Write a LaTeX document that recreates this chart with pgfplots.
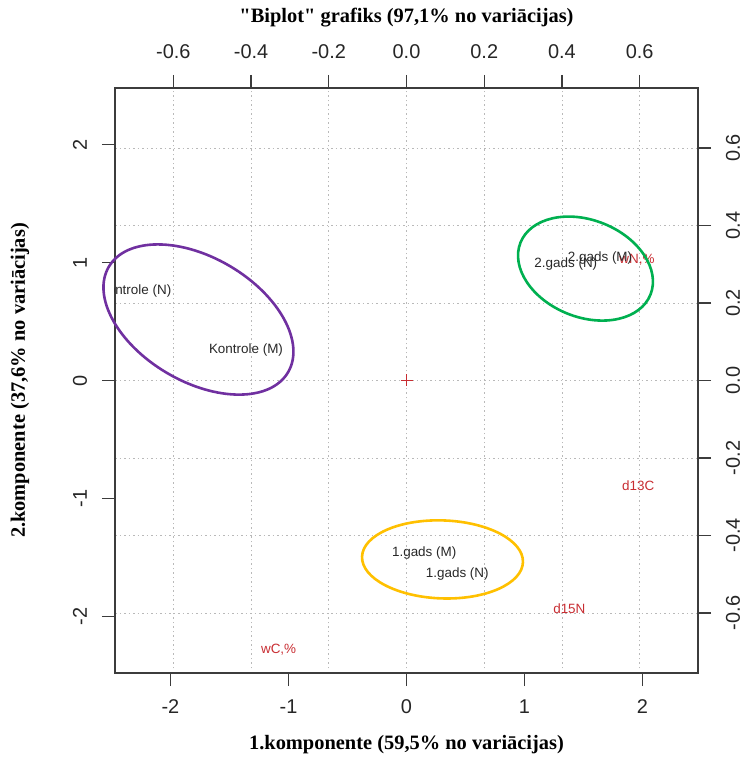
\documentclass[border=0pt]{standalone}
\usepackage{pgfplots}
\pgfplotsset{compat=1.18}
\usepackage{pgfplotstable}
\usepackage{fontspec}
\setmainfont{Liberation Sans}
\newfontfamily\titlefont{Liberation Serif}

\definecolor{obstext}{RGB}{40,40,40}
\definecolor{vartext}{RGB}{200,45,50}
\definecolor{ellpurple}{RGB}{112,48,160}
\definecolor{ellgreen}{RGB}{0,176,80}
\definecolor{ellorange}{RGB}{255,192,0}
\definecolor{boxgray}{RGB}{60,60,60}

% sample scores (1st / 2nd component)
\pgfplotstableread[col sep=semicolon]{
x;y;lab
-2.30;0.76;Kontrole (N)
-1.36;0.26;Kontrole (M)
1.35;0.99;2.gads (N)
1.64;1.04;2.gads (M)
0.15;-1.46;1.gads (M)
0.43;-1.64;1.gads (N)
}\scores

% variable loadings
\pgfplotstableread[col sep=semicolon]{
x;y;lab
0.593;0.313;wN,\%
0.596;-0.272;d13C
0.419;-0.590;d15N
-0.329;-0.696;wC,\%
}\loadings

\pgfplotsset{
  biplotbase/.style={
    at={(0,0)}, anchor=south west,
    scale only axis, width=583bp, height=585bp,
    tick align=outside, major tick length=13bp,
    axis line style={boxgray, line width=1.2bp},
    every tick/.style={boxgray, line width=1.2bp},
    tick label style={font=\fontsize{20}{24}\selectfont, text=black!85},
    clip marker paths=true,
  }
}

\begin{document}
\begin{tikzpicture}
\useasboundingbox (-115bp,-85bp) rectangle (628bp,673bp);

% loadings axis (top / right) with the dotted grid
\begin{axis}[biplotbase,
  xmin=-0.75, xmax=0.75, ymin=-0.755, ymax=0.755,
  xtick={-0.6,-0.4,-0.2,0,0.2,0.4,0.6},
  ytick={-0.6,-0.4,-0.2,0,0.2,0.4,0.6},
  xticklabels={-0.6,-0.4,-0.2,0.0,0.2,0.4,0.6},
  yticklabels={-0.6,-0.4,-0.2,0.0,0.2,0.4,0.6},
  xtick pos=right, ytick pos=right,
  xticklabel pos=right, yticklabel pos=right,
  xticklabel style={anchor=center, yshift=23bp},
  yticklabel style={anchor=center, xshift=22bp, rotate=90},
  grid=major,
  major grid style={gray!55, line width=0.8bp, dash pattern=on 1.5bp off 3bp},
]
\addplot[only marks, mark=none, point meta=explicit symbolic,
  nodes near coords,
  nodes near coords style={anchor=center, inner sep=0pt,
    font=\fontsize{13.5}{16}\selectfont, text=vartext}]
  table[x=x, y=y, meta=lab] {\loadings};
\end{axis}

% scores axis (bottom / left)
\begin{axis}[biplotbase,
  xmin=-2.47, xmax=2.47, ymin=-2.48, ymax=2.48,
  xtick={-2,-1,0,1,2}, ytick={-2,-1,0,1,2},
  xticklabels={-2,-1,0,1,2}, yticklabels={-2,-1,0,1,2},
  xtick pos=left, ytick pos=left,
  xticklabel style={anchor=center, yshift=-21bp},
  yticklabel style={anchor=center, xshift=-22bp, rotate=90},
]
\addplot[only marks, mark=none, point meta=explicit symbolic,
  nodes near coords,
  nodes near coords style={anchor=center, inner sep=0pt,
    font=\fontsize{13.5}{16}\selectfont, text=obstext}]
  table[x=x, y=y, meta=lab] {\scores};
\addplot[only marks, mark=+, mark size=6bp, vartext, line width=1.4bp]
  coordinates {(0,0)};
\coordinate (cP) at (axis cs:-1.763,0.517);
\coordinate (cG) at (axis cs:1.517,0.949);
\coordinate (cO) at (axis cs:0.305,-1.517);
\end{axis}

% group outlines
\draw[ellpurple, line width=2.6bp, rotate around={-30.5:(cP)}]
  (cP) ellipse [x radius=104bp, y radius=62bp];
\draw[ellgreen, line width=2.6bp, rotate around={-21.8:(cG)}]
  (cG) ellipse [x radius=70bp, y radius=48.5bp];
\draw[ellorange, line width=2.6bp, rotate around={-2:(cO)}]
  (cO) ellipse [x radius=80.5bp, y radius=39bp];

% titles
\node[font=\titlefont\bfseries\fontsize{20.5}{24}\selectfont] at (291.5bp,655bp)
  {"Biplot" grafiks (97,1\% no variācijas)};
\node[font=\titlefont\bfseries\fontsize{20.5}{24}\selectfont] at (291.5bp,-72bp)
  {1.komponente (59,5\% no variācijas)};
\node[font=\titlefont\bfseries\fontsize{20.5}{24}\selectfont, rotate=90] at (-95bp,292.5bp)
  {2.komponente (37,6\% no variācijas)};
\end{tikzpicture}
\end{document}
